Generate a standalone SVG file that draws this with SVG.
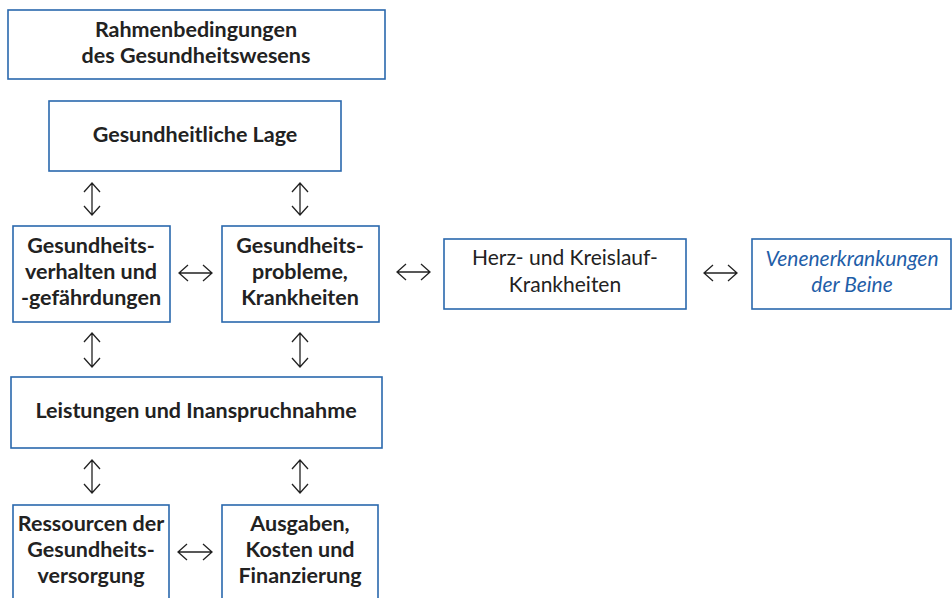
<svg xmlns="http://www.w3.org/2000/svg" width="952" height="598" viewBox="0 0 952 598">
<style>
.box{fill:#fff;stroke:#2a68ad;stroke-width:1.6}
.t{font-family:Lato,"Open Sans","Liberation Sans",sans-serif;font-size:21px;fill:#222;text-anchor:middle}
.b{font-weight:bold;font-size:21.5px}
.it{font-style:italic;fill:#1f5ea8}
.arr{fill:none;stroke:#222;stroke-width:1.3}
</style>
<rect width="952" height="598" fill="#fff"/>
<g id="rahmen"><rect class="box" x="8" y="10" width="377" height="69"/>
<text class="t b" x="196" y="37">Rahmenbedingungen</text><text class="t b" x="196" y="63">des Gesundheitswesens</text></g>
<g id="lage"><rect class="box" x="49" y="101" width="292" height="70"/>
<text class="t b" x="195" y="142">Gesundheitliche Lage</text></g>
<g id="verhalten"><rect class="box" x="13" y="226" width="157" height="96"/>
<text class="t b" x="91" y="253">Gesundheits-</text><text class="t b" x="91" y="279">verhalten und</text><text class="t b" x="91" y="305">-gefährdungen</text></g>
<g id="probleme"><rect class="box" x="222" y="226" width="157" height="96"/>
<text class="t b" x="300" y="253">Gesundheits-</text><text class="t b" x="300" y="279">probleme,</text><text class="t b" x="300" y="305">Krankheiten</text></g>
<g id="herz"><rect class="box" x="444" y="239" width="242" height="70"/>
<text class="t" x="565" y="265">Herz- und Kreislauf-</text><text class="t" x="565" y="292">Krankheiten</text></g>
<g id="venen"><rect class="box" x="752" y="239" width="199" height="70"/>
<text class="t it" x="852" y="266">Venenerkrankungen</text><text class="t it" x="852" y="292">der Beine</text></g>
<g id="leistungen"><rect class="box" x="11" y="377" width="371" height="71"/>
<text class="t b" x="196" y="418">Leistungen und Inanspruchnahme</text></g>
<g id="ressourcen"><rect class="box" x="13" y="505" width="156" height="100"/>
<text class="t b" x="91" y="531">Ressourcen der</text><text class="t b" x="91" y="557">Gesundheits-</text><text class="t b" x="91" y="583">versorgung</text></g>
<g id="ausgaben"><rect class="box" x="222" y="505" width="156" height="100"/>
<text class="t b" x="300" y="531">Ausgaben,</text><text class="t b" x="300" y="557">Kosten und</text><text class="t b" x="300" y="583">Finanzierung</text></g>
<g id="connectors" class="arr">
<path d="M92 183V215M84 192L92 183L100 192M84 206L92 215L100 206"/>
<path d="M300 183V215M292 192L300 183L308 192M292 206L300 215L308 206"/>
<path d="M92 333V367M84 342L92 333L100 342M84 358L92 367L100 358"/>
<path d="M300 333V367M292 342L300 333L308 342M292 358L300 367L308 358"/>
<path d="M92 460V493M84 469L92 460L100 469M84 484L92 493L100 484"/>
<path d="M300 460V493M292 469L300 460L308 469M292 484L300 493L308 484"/>
<path d="M179 273H212M188 265L179 273L188 281M203 265L212 273L203 281"/>
<path d="M397 272H430M406 264L397 272L406 280M421 264L430 272L421 280"/>
<path d="M704 273H737M713 265L704 273L713 281M728 265L737 273L728 281"/>
<path d="M178 552H212M187 544L178 552L187 560M203 544L212 552L203 560"/>
</g>
</svg>
